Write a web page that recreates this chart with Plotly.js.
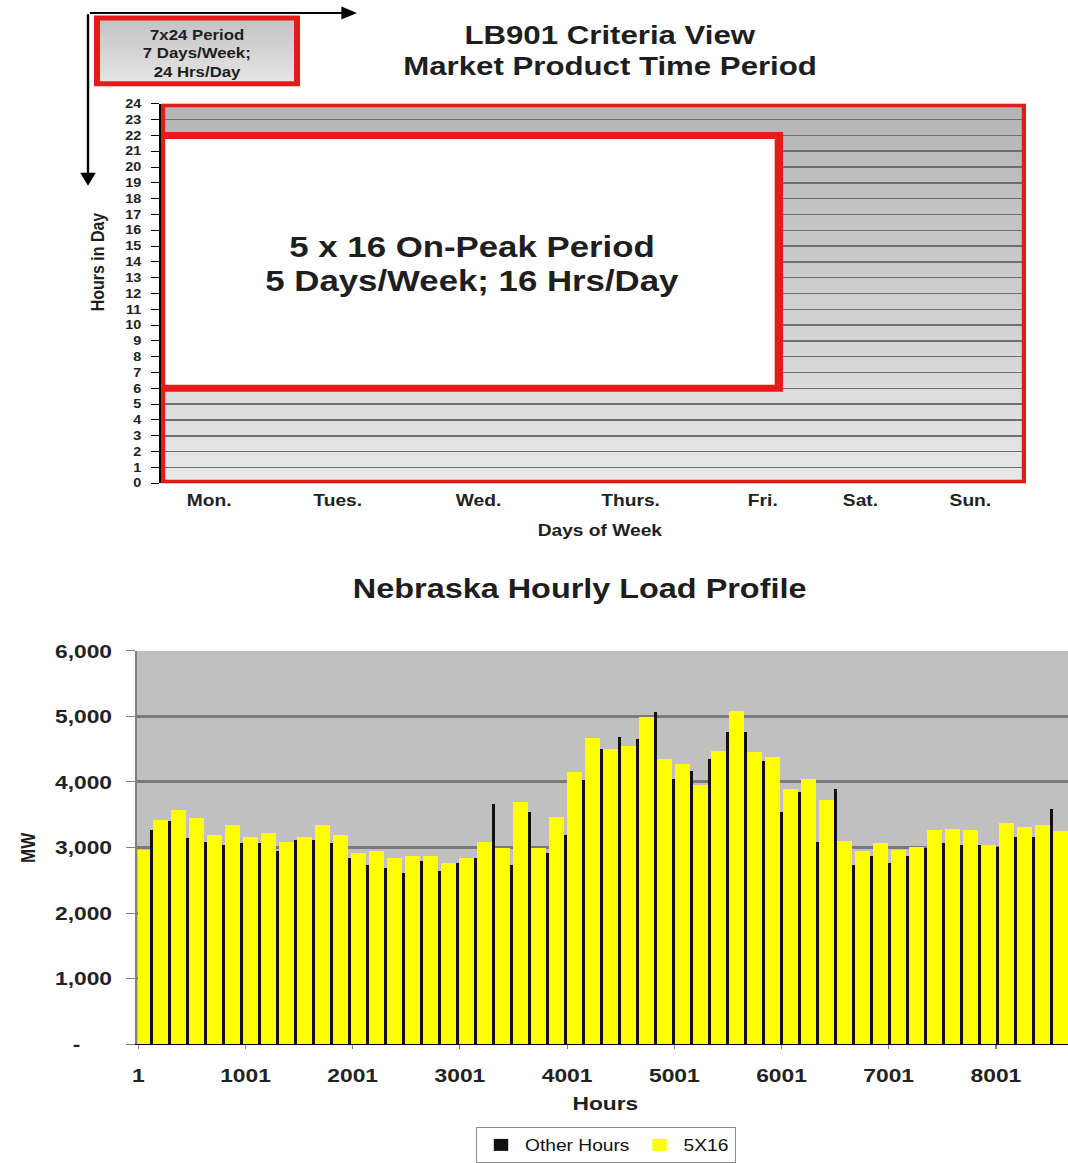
<!DOCTYPE html>
<html>
<head>
<meta charset="utf-8">
<script src="https://cdn.plot.ly/plotly-3.0.1.min.js"></script>
<style>
  html, body { margin: 0; padding: 0; background: #fff; overflow: hidden; }
  #wrap { width: 1068px; height: 1163px; overflow: hidden; }
  /* the drawing is laid out narrower and widened as a whole */
  #chart { width: 890px; height: 1163px; transform: scaleX(1.2); transform-origin: 0 0; }
</style>
</head>
<body>
<div id="wrap"><div id="chart"></div></div>
<script>
// ---------- Market product time period (top panel) ----------
const weekDays = ['Mon.', 'Tues.', 'Wed.', 'Thurs.', 'Fri.', 'Sat.', 'Sun.'];
const dayLabelPos = [0.39, 1.43, 2.57, 3.80, 4.87, 5.66, 6.55];
const daysPerWeek = 7;
const hoursPerDay = 24;
const onPeakDays = 5;
const onPeakStartHour = 6;
const onPeakEndHour = 22;

// ---------- Nebraska hourly load profile (bottom panel), weekly peaks ----------
// 5X16 on-peak hours: peak MW of each Mon-Fri block
const onPeakWeeklyMW = [
  2965, 3420, 3570, 3445, 3190, 3340, 3165, 3215, 3090, 3165,
  3340, 3190, 2915, 2940, 2840, 2865, 2865, 2760, 2840, 3090,
  3000, 3700, 3000, 3470, 4150, 4670, 4500, 4550, 4985, 4350,
  4275, 3950, 4480, 5085, 4455, 4380, 3900, 4050, 3720, 3100,
  2940, 3065, 2965, 3015, 3265, 3290, 3265, 3040, 3370, 3320,
  3340, 3250
];
// Other hours: peak MW of each weekend
const otherWeekendMW = [
  3270, 3410, 3150, 3090, 3040, 3065, 3065, 2940, 3115, 3115,
  3065, 2840, 2735, 2685, 2610, 2790, 2635, 2760, 2840, 3670,
  2735, 3545, 2915, 3190, 4025, 4505, 4680, 4655, 5060, 4050,
  4175, 4355, 4760, 4760, 4325, 3545, 3850, 3090, 3900, 2735,
  2865, 2760, 2865, 2990, 3065, 3040, 3040, 3015, 3165, 3165,
  3595, 3090
];
const firstWeekendHour = 97;   // the year opens on a Tuesday
const hoursPerWeek = 168;
const weekendHours = 48;
const hourTicks = [1, 1001, 2001, 3001, 4001, 5001, 6001, 7001, 8001];
const mwTicks = [0, 1000, 2000, 3000, 4000, 5000, 6000];
const mwTickText = ['-\u00a0\u00a0\u00a0\u00a0\u00a0', '1,000', '2,000', '3,000', '4,000', '5,000', '6,000'];

// ---------- helpers ----------
const FIG_W = 1068, FIG_H = 1163, STRETCH = 1.2;
const px = v => v / FIG_W;
const py = v => (FIG_H - v) / FIG_H;
const FONT = 'Liberation Sans, Arial, sans-serif';

function gradientURI(top, bottom) {
  const svg = '<svg xmlns="http://www.w3.org/2000/svg" width="20" height="200" viewBox="0 0 20 200" preserveAspectRatio="none">' +
    '<defs><linearGradient id="g" x1="0" y1="0" x2="0" y2="1">' +
    '<stop offset="0" stop-color="' + top + '"/><stop offset="1" stop-color="' + bottom + '"/>' +
    '</linearGradient></defs><rect width="20" height="200" fill="url(#g)"/></svg>';
  return 'data:image/svg+xml;charset=utf-8,' + encodeURIComponent(svg);
}

function label(text, x, y, size, extra) {
  return Object.assign({
    text: text, xref: 'paper', yref: 'paper', x: px(x), y: py(y),
    xanchor: 'center', yanchor: 'middle', showarrow: false,
    font: { family: FONT, size: size, weight: 700, color: '#1e1e1e' }
  }, extra || {});
}

// weekend bars sit in the middle of each Sat-Sun span; the on-peak blocks fill the days between
const blackBarWidth = 30;
const weekendCenters = otherWeekendMW.map((_, k) => firstWeekendHour + hoursPerWeek * k + (weekendHours - 1) / 2);
const onPeakLeft = onPeakWeeklyMW.map((_, j) => j === 0 ? 0.5 : weekendCenters[j - 1] + blackBarWidth / 2);
const onPeakRight = onPeakWeeklyMW.map((_, j) => weekendCenters[j] - blackBarWidth / 2);

const traces = [
  {
    type: 'bar', name: 'Other Hours', xaxis: 'x', yaxis: 'y',
    x: weekendCenters, y: otherWeekendMW,
    width: otherWeekendMW.map(() => blackBarWidth),
    marker: { color: '#111111', line: { width: 0 } }
  },
  {
    type: 'bar', name: '5X16', xaxis: 'x', yaxis: 'y',
    x: onPeakLeft.map((l, j) => (l + onPeakRight[j]) / 2), y: onPeakWeeklyMW,
    width: onPeakLeft.map((l, j) => onPeakRight[j] - l),
    marker: { color: '#ffff00', line: { width: 0 } }
  },
  {
    type: 'scatter', mode: 'markers', xaxis: 'x2', yaxis: 'y2',
    x: [], y: [], showlegend: false, hoverinfo: 'skip'
  }
];

const hourLabels = Array.from({ length: hoursPerDay + 1 }, (_, i) => i);

const layout = {
  width: 890, height: FIG_H,
  margin: { l: 0, r: 0, t: 0, b: 0 },
  paper_bgcolor: '#ffffff',
  plot_bgcolor: '#c0c0c0',
  font: { family: FONT, color: '#1a1a1a' },
  barmode: 'overlay',
  bargap: 0,
  showlegend: true,
  legend: {
    orientation: 'h', x: px(606), xanchor: 'center', y: py(1147), yanchor: 'middle',
    bgcolor: '#ffffff', bordercolor: '#8c8c8c', borderwidth: 1,
    font: { family: FONT, size: 16, color: '#111' }, traceorder: 'normal',
    itemwidth: 30, tracegroupgap: 0
  },
  // bottom panel
  xaxis: {
    domain: [px(137), 1], anchor: 'y',
    range: [1 - 1.3 / 0.1072, 1 + (FIG_W - 138.3) / 0.1072],
    tickvals: hourTicks, ticktext: hourTicks.map(String),
    ticks: 'outside', ticklen: 4, tickcolor: '#808080', tickwidth: 1,
    ticklabelstandoff: 10,
    showline: true, linecolor: '#000000', linewidth: 1,
    showgrid: false, zeroline: false,
    tickfont: { family: FONT, size: 19, weight: 700, color: '#222' }
  },
  yaxis: {
    domain: [py(1046), py(652)], anchor: 'x',
    range: [0, 6000],
    tickvals: mwTicks, ticktext: mwTickText,
    ticks: 'outside', ticklen: 7, tickcolor: '#808080', tickwidth: 1,
    ticklabelstandoff: 8,
    showline: true, linecolor: '#808080', linewidth: 2,
    showgrid: true, gridcolor: '#7a7a7a', gridwidth: 3, zeroline: false,
    tickfont: { family: FONT, size: 19, weight: 700, color: '#222' }
  },
  // top panel
  xaxis2: {
    domain: [px(161), px(1026)], anchor: 'y2',
    range: [0, daysPerWeek],
    tickvals: dayLabelPos, ticktext: weekDays,
    ticks: '', ticklabelstandoff: 6,
    showline: false, showgrid: false, zeroline: false,
    tickfont: { family: FONT, size: 16, weight: 700, color: '#222' }
  },
  yaxis2: {
    domain: [py(484), py(104)], anchor: 'x2',
    range: [0, hoursPerDay],
    tickvals: hourLabels, ticktext: hourLabels.map(String),
    ticks: 'outside', ticklen: 6, tickcolor: '#000', tickwidth: 1,
    ticklabelstandoff: 6,
    showline: true, linecolor: '#000', linewidth: 2,
    showgrid: true, gridcolor: '#6e6e6e', gridwidth: 1.5, zeroline: false,
    tickfont: { family: FONT, size: 12, weight: 700, color: '#222' }
  },
  images: [
    {
      source: gradientURI('#b4b4b4', '#e8e8e8'),
      xref: 'x2', yref: 'y2', x: 0, y: hoursPerDay, sizex: daysPerWeek, sizey: hoursPerDay,
      xanchor: 'left', yanchor: 'top', sizing: 'stretch', layer: 'below'
    },
    {
      source: gradientURI('#c2c2c2', '#e6e6e6'),
      xref: 'paper', yref: 'paper', x: px(97), y: py(18), sizex: px(297) - px(97), sizey: py(18) - py(84),
      xanchor: 'left', yanchor: 'top', sizing: 'stretch', layer: 'below'
    }
  ],
  shapes: [
    // 7x24 period
    {
      type: 'rect', xref: 'x2', yref: 'y2', x0: 0, x1: daysPerWeek, y0: 0, y1: hoursPerDay,
      line: { color: '#e41b17', width: 7 }, fillcolor: 'rgba(0,0,0,0)', layer: 'above'
    },
    // 5x16 on-peak period
    {
      type: 'rect', xref: 'x2', yref: 'y2', x0: 0, x1: onPeakDays, y0: onPeakStartHour, y1: onPeakEndHour,
      line: { color: '#e41b17', width: 7 }, fillcolor: '#ffffff', layer: 'above'
    },
    // key box for the 7x24 period
    {
      type: 'rect', xref: 'paper', yref: 'paper', x0: px(97), x1: px(297), y0: py(84), y1: py(18),
      line: { color: '#e41b17', width: 5 }, fillcolor: 'rgba(0,0,0,0)', layer: 'above'
    }
  ],
  annotations: [
    label('LB901 Criteria View', 610, 35, 26),
    label('Market Product Time Period', 610, 66, 26),
    label('7x24 Period', 197, 35, 14),
    label('7 Days/Week;', 197, 53, 14),
    label('24 Hrs/Day', 197, 72, 14),
    label('5 x 16 On-Peak Period', 472, 247, 29),
    label('5 Days/Week; 16 Hrs/Day', 472, 281, 29),
    label('Days of Week', 600, 531, 16),
    label('Hours in Day', 97, 262, 16, { textangle: -90 }),
    // axis arrows
    { text: '', xref: 'paper', yref: 'paper', x: px(357), y: py(13),
      ax: -(357 - 88) / STRETCH, ay: 0, axref: 'pixel', ayref: 'pixel',
      showarrow: true, arrowhead: 2, arrowsize: 1.3, arrowwidth: 2, arrowcolor: '#000', standoff: 0, startstandoff: 0 },
    { text: '', xref: 'paper', yref: 'paper', x: px(88), y: py(186),
      ax: 0, ay: -(186 - 13), axref: 'pixel', ayref: 'pixel',
      showarrow: true, arrowhead: 2, arrowsize: 1.3, arrowwidth: 2, arrowcolor: '#000', standoff: 0, startstandoff: 0 },
    // bottom panel texts
    label('Nebraska Hourly Load Profile', 580, 590, 27),
    label('Hours', 605, 1105, 19),
    label('MW', 28, 849, 17, { textangle: -90 })
  ]
};

Plotly.newPlot('chart', traces, layout, { staticPlot: true, displayModeBar: false });
</script>
</body>
</html>
